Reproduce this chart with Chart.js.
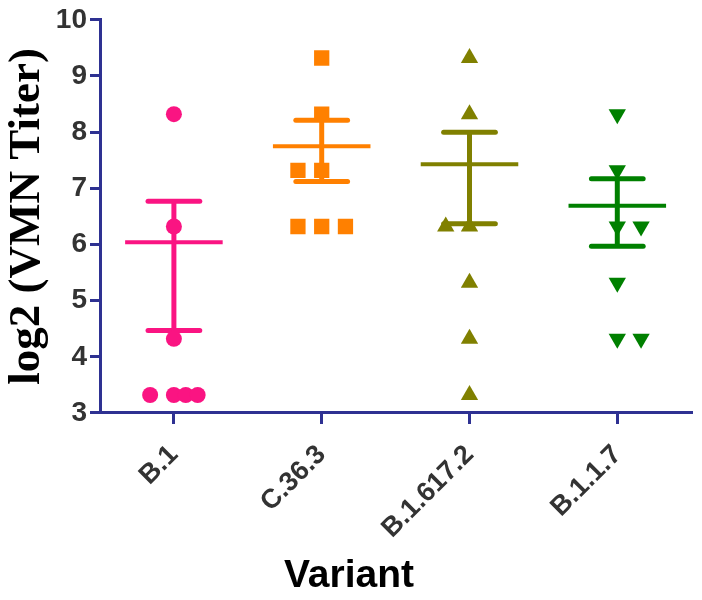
<!DOCTYPE html>
<html><head><meta charset="utf-8">
<script src="https://cdn.jsdelivr.net/npm/chart.js@4/dist/chart.umd.min.js"></script>
<style>html,body{margin:0;padding:0;background:#fff}</style>
</head><body>
<canvas id="c" width="702" height="600" style="width:702px;height:600px;display:block"></canvas>
<script>
// ---- data ----
const categories = ['B.1', 'C.36.3', 'B.1.617.2', 'B.1.1.7'];
const b1Values      = [8.32, 6.32, 4.32, 3.32, 3.32, 3.32, 3.32];
const c363Values    = [9.32, 8.32, 7.32, 7.32, 6.32, 6.32, 6.32];
const b16172Values  = [9.32, 8.32, 6.32, 6.32, 5.32, 4.32, 3.32];
const b117Values    = [8.32, 7.32, 6.32, 6.32, 5.32, 4.32, 4.32];
const means         = [6.04, 7.75, 7.43, 6.69];
const upperErr      = [6.77, 8.21, 8.00, 7.17];
const lowerErr      = [4.47, 7.12, 6.37, 5.97];
const yTicks        = [3, 4, 5, 6, 7, 8, 9, 10];

// ---- layout / style ----
const seriesValues = [b1Values, c363Values, b16172Values, b117Values];
const jitterPx = [
  [0, 0, 0, -24, 0, 12, 24],
  [0, 0, -24, 0, -24, 0, 24],
  [0, 0, -24, 0, 0, 0, 0],
  [0, 0, 0, 24, 0, 0, 24]
];
const PX_PER_CAT = 149.3;
const colors = ['#FA1482', '#FF8000', '#808000', '#008000'];
const styles = [
  {pointStyle: 'circle', radius: 8, rotation: 0},
  {pointStyle: 'rect', radius: 10.8, rotation: 0},
  {pointStyle: 'triangle', radius: 10, rotation: 0},
  {pointStyle: 'triangle', radius: 10, rotation: 180}
];
const AXIS = '#2E3192';
const MEAN_HALF = 0.33, CAP_HALF = 0.175;

const datasets = [];
seriesValues.forEach((vals, i) => {
  datasets.push({
    data: vals.map((v, j) => ({x: i + jitterPx[i][j] / PX_PER_CAT, y: v})),
    pointStyle: styles[i].pointStyle,
    pointRadius: styles[i].radius,
    pointRotation: styles[i].rotation,
    backgroundColor: colors[i],
    borderColor: colors[i],
    borderWidth: 0,
    showLine: false,
    order: 0
  });
});
function seg(pts, color, w, cap) {
  return {data: pts, showLine: true, pointRadius: 0, borderColor: color,
          borderWidth: w, borderCapStyle: cap, fill: false, order: 1};
}
categories.forEach((c, i) => {
  const col = colors[i];
  datasets.push(seg([{x: i, y: lowerErr[i]}, {x: i, y: upperErr[i]}], col, 5, 'butt'));
  datasets.push(seg([{x: i - CAP_HALF, y: upperErr[i]}, {x: i + CAP_HALF, y: upperErr[i]}], col, 5, 'round'));
  datasets.push(seg([{x: i - CAP_HALF, y: lowerErr[i]}, {x: i + CAP_HALF, y: lowerErr[i]}], col, 5, 'round'));
  datasets.push(seg([{x: i - MEAN_HALF, y: means[i]}, {x: i + MEAN_HALF, y: means[i]}], col, 4, 'butt'));
});

const TITLE_SIZE = 39;
new Chart(document.getElementById('c'), {
  type: 'scatter',
  data: {datasets},
  options: {
    responsive: false,
    animation: false,
    devicePixelRatio: 1,
    layout: {padding: {top: 18, right: 4, bottom: 0, left: 0}},
    plugins: {
      legend: {display: false},
      tooltip: {enabled: false},
      title: {
        display: true, position: 'bottom', text: 'Variant', color: '#000',
        font: {family: 'Liberation Sans', size: TITLE_SIZE, weight: 'bold'},
        padding: 0
      }
    },
    scales: {
      x: {
        type: 'linear', min: -0.5, max: 3.5,
        afterBuildTicks: s => { s.ticks = categories.map((c, i) => ({value: i})); },
        afterFit: s => { s.height = 600 - TITLE_SIZE * 1.2 - 413; },
        ticks: {
          autoSkip: false, minRotation: 45, maxRotation: 45, padding: 15,
          color: '#333', font: {family: 'Liberation Sans', size: 27, weight: 'bold'},
          callback: v => categories[v] !== undefined ? categories[v] : ''
        },
        grid: {drawOnChartArea: false, drawTicks: true, tickLength: 11, color: AXIS, lineWidth: 3, tickWidth: 3},
        border: {display: true, color: AXIS, width: 3}
      },
      y: {
        type: 'linear', min: 3, max: 10,
        afterBuildTicks: s => { s.ticks = yTicks.map(v => ({value: v})); },
        afterFit: s => { s.width = 100; },
        ticks: {
          padding: 3, color: '#333',
          font: {family: 'Liberation Sans', size: 28, weight: 'bold'}
        },
        title: {
          display: true, text: 'log2 (VMN Titer)', color: '#000',
          font: {family: 'Liberation Serif', size: 45, weight: 'bold'},
          padding: 0
        },
        grid: {drawOnChartArea: false, drawTicks: true, tickLength: 10, color: AXIS, lineWidth: 3, tickWidth: 3},
        border: {display: true, color: AXIS, width: 3}
      }
    }
  }
});
</script>
</body></html>
